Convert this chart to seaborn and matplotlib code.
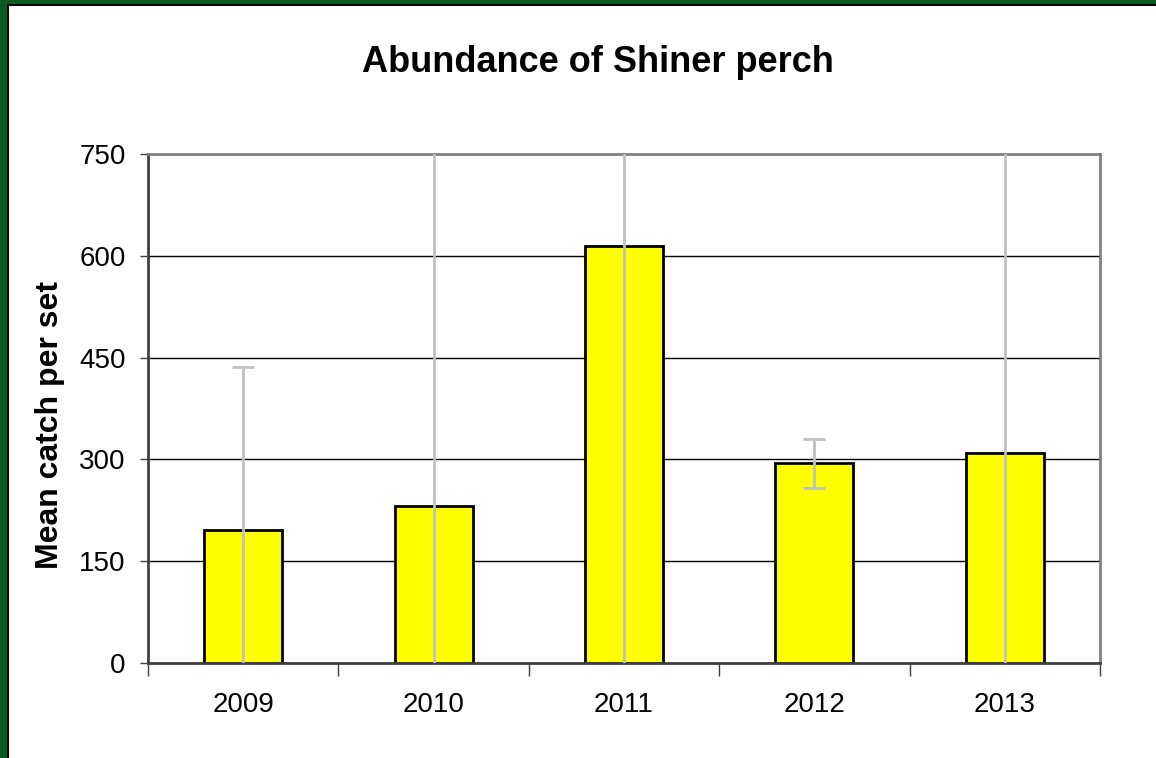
import numpy as np
import pandas as pd
import matplotlib
matplotlib.use("Agg")
import matplotlib.pyplot as plt
from matplotlib.patches import Rectangle
import seaborn as sns

# data
years = ["2009", "2010", "2011", "2012", "2013"]
mean_catch = [196, 232, 614, 294, 310]
catch_err = [240, 560, 650, 36, 480]   # upper ends beyond 750 are clipped in the original

sns.set_theme(style="white")
plt.rcParams["font.family"] = ["Liberation Sans", "DejaVu Sans"]

df = pd.DataFrame({"year": years, "catch": mean_catch})

W, H = 1156, 758
fig = plt.figure(figsize=(W / 100, H / 100), dpi=100)
ax = fig.add_axes([148 / W, 1 - 663 / H, (1100 - 148) / W, (663 - 154) / H])

sns.barplot(data=df, x="year", y="catch", color="#ffff00", width=0.41,
            edgecolor="black", linewidth=2, saturation=1, errorbar=None,
            ax=ax, zorder=2)

ax.errorbar(np.arange(len(years)), mean_catch, yerr=catch_err, fmt="none",
            ecolor="#c0c0c0", elinewidth=2, capsize=8, capthick=2, zorder=3)

ax.set_ylim(0, 750)
ax.set_xlim(-0.5, len(years) - 0.5)
ax.set_yticks([0, 150, 300, 450, 600, 750])
ax.yaxis.grid(True, color="black", linewidth=1)
ax.set_axisbelow(True)

ax.set_xticks(np.arange(-0.5, len(years)), minor=True)
ax.tick_params(axis="x", which="major", length=0, pad=21, labelsize=20, labelcolor="black")
ax.tick_params(axis="x", which="minor", length=9, width=1, color="#404040", direction="out", bottom=True)
ax.tick_params(axis="y", which="major", length=6, width=1, color="#404040", direction="out",
               left=True, labelsize=20, labelcolor="black", pad=10)

for side in ["top", "right"]:
    ax.spines[side].set_color("#808080")
    ax.spines[side].set_linewidth(2)
for side in ["left", "bottom"]:
    ax.spines[side].set_color("#404040")
    ax.spines[side].set_linewidth(2)

ax.set_xlabel("")
ax.set_ylabel("Mean catch per set", fontsize=23, fontweight="bold", color="black", va="center")
ax.yaxis.set_label_coords((50 - 148) / (1100 - 148), (663 - 425) / (663 - 154))
fig.text(598 / W, 1 - 62 / H, "Abundance of Shiner perch", ha="center", va="center",
         fontsize=26, fontweight="bold", color="black")

# green frame on the left and top edges, with a thin black inner line
green = "#0b5a1f"
fig.patches.append(Rectangle((0, 0), 7 / W, 1, transform=fig.transFigure,
                             facecolor=green, edgecolor="none"))
fig.patches.append(Rectangle((0, 1 - 4 / H), 1, 4 / H, transform=fig.transFigure,
                             facecolor=green, edgecolor="none"))
fig.patches.append(Rectangle((7 / W, 0), 1.5 / W, 1 - 4 / H, transform=fig.transFigure,
                             facecolor="black", edgecolor="none"))
fig.patches.append(Rectangle((7 / W, 1 - 5.5 / H), 1, 1.5 / H, transform=fig.transFigure,
                             facecolor="black", edgecolor="none"))

fig.savefig("out.png", dpi=100, facecolor="white")
